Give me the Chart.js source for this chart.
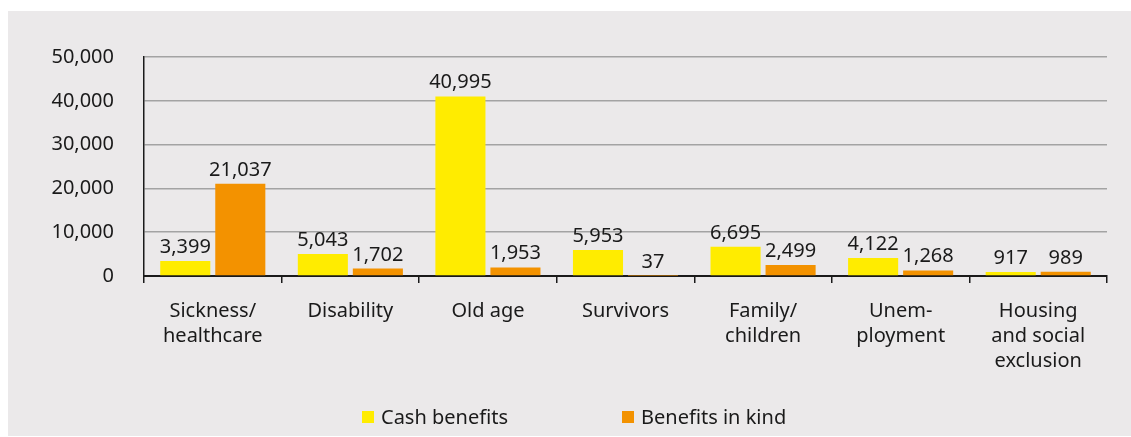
<!DOCTYPE html>
<html>
<head>
<meta charset="utf-8">
<script src="https://cdn.jsdelivr.net/npm/chart.js@4.4.1/dist/chart.umd.min.js"></script>
<style>
  html, body { margin: 0; padding: 0; background: #ffffff; }
  body { width: 1131px; height: 437px; position: relative; overflow: hidden; font-family: "Noto Sans", sans-serif; }
  #panel { position: absolute; left: 8px; top: 11px; width: 1123px; height: 425px; background: #ebe9ea; }
  #wrap { position: absolute; left: 0; top: 0; width: 1131px; height: 437px; }
  .leg { position: absolute; top: 403px; font-size: 20px; color: #1a1a1a; line-height: 28px; white-space: nowrap; }
  .box { position: absolute; width: 12px; height: 12px; top: 411px; }
</style>
</head>
<body>
<div id="panel"></div>
<div id="wrap"><canvas id="c" width="1131" height="437"></canvas></div>
<div class="box" id="b0" style="left:362px;"></div>
<div class="leg" id="l0" style="left:381px;"></div>
<div class="box" id="b1" style="left:622px;"></div>
<div class="leg" id="l1" style="left:641px;"></div>
<script>
const categories = [
  ["Sickness/", "healthcare"],
  "Disability",
  "Old age",
  "Survivors",
  ["Family/", "children"],
  ["Unem-", "ployment"],
  ["Housing", "and social", "exclusion"]
];
const seriesNames = ["Cash benefits", "Benefits in kind"];
const cashBenefits = [3399, 5043, 40995, 5953, 6695, 4122, 917];
const benefitsInKind = [21037, 1702, 1953, 37, 2499, 1268, 989];
const yTicks = [0, 10000, 20000, 30000, 40000, 50000];

const colors = ["#ffec00", "#f39200"];
const FONT = "'Noto Sans', sans-serif";

document.getElementById('b0').style.background = colors[0];
document.getElementById('b1').style.background = colors[1];
document.getElementById('l0').textContent = seriesNames[0];
document.getElementById('l1').textContent = seriesNames[1];

const fmt = v => v.toLocaleString('en-US');

const valueLabels = {
  id: 'valueLabels',
  afterDatasetsDraw(chart) {
    const ctx = chart.ctx;
    ctx.save();
    ctx.font = "20px " + FONT;
    ctx.fillStyle = "#1a1a1a";
    ctx.textAlign = "center";
    ctx.textBaseline = "alphabetic";
    chart.data.datasets.forEach((ds, i) => {
      const meta = chart.getDatasetMeta(i);
      meta.data.forEach((bar, j) => {
        ctx.fillText(fmt(ds.data[j]), bar.x, bar.y - 8);
      });
    });
    ctx.restore();
  }
};

new Chart(document.getElementById('c'), {
  type: 'bar',
  data: {
    labels: categories,
    datasets: [
      { label: seriesNames[0], data: cashBenefits, backgroundColor: colors[0] },
      { label: seriesNames[1], data: benefitsInKind, backgroundColor: colors[1] }
    ]
  },
  options: {
    responsive: false,
    animation: false,
    devicePixelRatio: 1,
    categoryPercentage: 0.8,
    barPercentage: 0.91,
    layout: { padding: { left: 0, right: 24, top: 57, bottom: 61 } },
    plugins: {
      legend: { display: false },
      tooltip: { enabled: false }
    },
    scales: {
      x: {
        offset: true,
        grid: { offset: true, drawOnChartArea: false, drawTicks: true, tickLength: 7, color: "#1a1a1a", lineWidth: 1.5 },
        border: { display: true, color: "#1a1a1a", width: 2 },
        ticks: { color: "#1a1a1a", font: { family: FONT, size: 20, lineHeight: 1.24 }, padding: 16, maxRotation: 0, autoSkip: false },
        afterFit: s => { s.height = 100; }
      },
      y: {
        min: 0, max: 50000,
        afterBuildTicks: s => { s.ticks = yTicks.map(v => ({ value: v })); },
        grid: { drawTicks: false, color: "#a3a3a3", lineWidth: 1.5 },
        border: { display: true, color: "#1a1a1a", width: 1.5 },
        ticks: { color: "#1a1a1a", font: { family: FONT, size: 20 }, padding: 30, callback: v => fmt(v) },
        afterFit: s => { s.width = 144; }
      }
    }
  },
  plugins: [valueLabels]
});
</script>
</body>
</html>
